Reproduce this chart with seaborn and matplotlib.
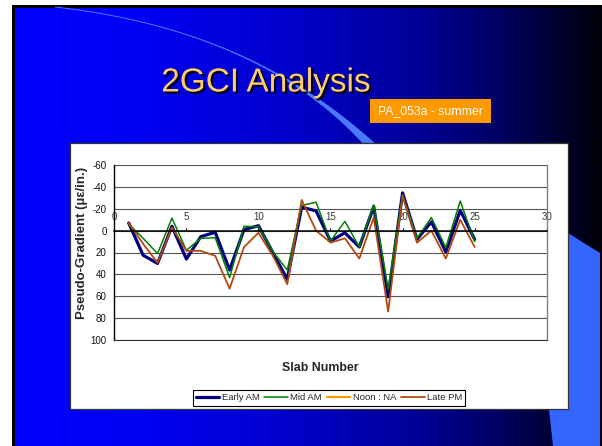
import numpy as np
import matplotlib
matplotlib.use("Agg")
import matplotlib.pyplot as plt
from matplotlib import patheffects
from matplotlib.patches import Rectangle, Polygon
from matplotlib.colors import LinearSegmentedColormap
import seaborn as sns

# ---- data -------------------------------------------------------------
slab = list(range(1, 26))
early_am = [-7, 22.5, 30, -4, 26, 5.5, 1.5, 36, -1, -4.5, 20, 44.5, -21.5, -18, 9.5,
            2, 15, -22, 60.5, -34.5, 8, -8, 19.5, -18.5, 8]
mid_am = [-6, 7, 21, -11.5, 18, 7, 6.5, 43, -4, -3.5, 19, 36, -23, -26, 9.5,
          -8.5, 15, -23.5, 53.5, -33, 7, -12, 15.5, -27, 10]
late_pm = [-7, 12, 29.5, -3, 18.5, 18.5, 23, 53, 15, 2, 23, 49, -28, 0, 11,
           7, 25.5, -12, 74, -32, 11, 0, 25.5, -10, 15]
series_labels = ["Early AM", "Mid AM", "Noon : NA", "Late PM"]
x_ticks = [0, 5, 10, 15, 20, 25, 30]
y_ticks = [-60, -40, -20, 0, 20, 40, 60, 80, 100]

sns.set_style("white")
plt.rcParams["font.family"] = ["Liberation Sans", "DejaVu Sans"]
plt.rcParams["axes.unicode_minus"] = False

W, H = 602, 446
fig = plt.figure(figsize=(W / 100, H / 100), dpi=100)
fig.patch.set_facecolor("white")

# ---- slide background --------------------------------------------------
bg = fig.add_axes([0, 0, 1, 1])
bg.set_xlim(0, W)
bg.set_ylim(H, 0)
bg.axis("off")
bg.add_patch(Rectangle((12, 5), W - 12, H - 5, facecolor="black", edgecolor="none"))

grad = LinearSegmentedColormap.from_list(
    "slide",
    [(0.0, "#0000ff"), (0.23, "#0000f2"), (0.485, "#0000c8"), (0.69, "#000096"),
     (0.826, "#000064"), (0.928, "#000030"), (1.0, "#00000a")])
bg.imshow(np.linspace(0, 1, 512)[None, :], extent=(15, W, H, 8), aspect="auto",
          cmap=grad, interpolation="bilinear", zorder=1)

# sweeping arc across the top
t = np.linspace(0, 1, 200)
p0, p1, p2 = np.array([55, 7]), np.array([260, 30]), np.array([375, 150])
curve = ((1 - t) ** 2)[:, None] * p0 + (2 * (1 - t) * t)[:, None] * p1 + (t ** 2)[:, None] * p2
deriv = (2 * (1 - t))[:, None] * (p1 - p0) + (2 * t)[:, None] * (p2 - p1)
normal = np.stack([-deriv[:, 1], deriv[:, 0]], axis=1)
normal /= np.linalg.norm(normal, axis=1)[:, None]
half = (0.5 + 4.5 * t ** 5)[:, None]
arc = np.vstack([curve + normal * half, (curve - normal * half)[::-1]])
bg.add_patch(Polygon(arc, closed=True, facecolor="#4a78ff", edgecolor="none", zorder=2))
bg.add_patch(Polygon([(520, 203), (600, 253), (600, H), (553, H), (548, 400)],
                     closed=True, facecolor="#3366ff", edgecolor="none", zorder=2))

# chart panel
bg.add_patch(Rectangle((70, 143), 498, 266, facecolor="white", edgecolor="#333333",
                       lw=0.9, zorder=3))

bg.text(266, 83, "2GCI Analysis", ha="center", va="center", fontsize=24,
        color="#ffcc66", zorder=4,
        path_effects=[patheffects.withSimplePatchShadow(offset=(1.5, -1.5),
                                                        shadow_rgbFace="black", alpha=0.9)])
bg.add_patch(Rectangle((370, 99), 121, 24, facecolor="#ff9900", edgecolor="none", zorder=4))
bg.text(430.5, 111.5, "PA_053a - summer", ha="center", va="center", fontsize=8.8,
        color="white", zorder=5)

# ---- chart -------------------------------------------------------------
ax = fig.add_axes([114.3 / W, 1 - 340 / H, 432.4 / W, 175 / H])
ax.set_facecolor("white")

sns.lineplot(x=slab, y=early_am, color="#000080", lw=2.3, ax=ax, label=series_labels[0])
sns.lineplot(x=slab, y=mid_am, color="#008000", lw=1.1, ax=ax, label=series_labels[1])
ax.plot([], [], color="#ff9900", lw=1.6, label=series_labels[2])
sns.lineplot(x=slab, y=late_pm, color="#b5480e", lw=1.3, ax=ax, label=series_labels[3])

handles, labels = ax.get_legend_handles_labels()
if ax.get_legend() is not None:
    ax.get_legend().remove()

ax.set_xlim(0, 30)
ax.set_ylim(100, -60)
ax.set_xticks(x_ticks)
ax.set_yticks(y_ticks)
ax.xaxis.set_ticks_position("top")
ax.spines["top"].set_position(("data", 0))
ax.tick_params(axis="x", direction="out", length=2.5, width=0.8, pad=4,
               labelsize=7, labelcolor="#333333", color="black")
ax.tick_params(axis="y", direction="out", length=3.5, width=0.8, pad=2,
               labelsize=7, labelcolor="#111111", color="black")
ax.grid(axis="y", color="#555555", lw=0.8)
ax.grid(axis="x", visible=False)
ax.set_axisbelow(True)
for side, col, lw in [("left", "black", 1.0), ("right", "#808080", 1.0),
                      ("bottom", "#333333", 0.8), ("top", "black", 1.1)]:
    ax.spines[side].set_visible(True)
    ax.spines[side].set_color(col)
    ax.spines[side].set_linewidth(lw)

ax.set_ylabel("Pseudo-Gradient (\u00b5\u03b5/in.)", fontsize=9.5, fontweight="bold")
ax.yaxis.label.set_va("center")
ax.yaxis.set_label_coords((81.7 - 114.3) / 432.4, (340 - 242.5) / 175)
ax.set_xlabel("Slab Number", fontsize=8.9, fontweight="bold")
ax.xaxis.label.set_va("center")
ax.xaxis.set_label_coords((320.3 - 114.3) / 432.4, (340 - 367.7) / 175)

leg = fig.legend(handles, labels, loc="center", bbox_to_anchor=(329 / W, 1 - 398 / H),
                 ncol=4, fontsize=6.8, frameon=True, fancybox=False, edgecolor="black",
                 framealpha=1, handlelength=2.5, handletextpad=0.25, columnspacing=0.5,
                 borderpad=0.35, borderaxespad=0)
leg.get_frame().set_linewidth(0.8)

fig.savefig("out.png", dpi=100)
